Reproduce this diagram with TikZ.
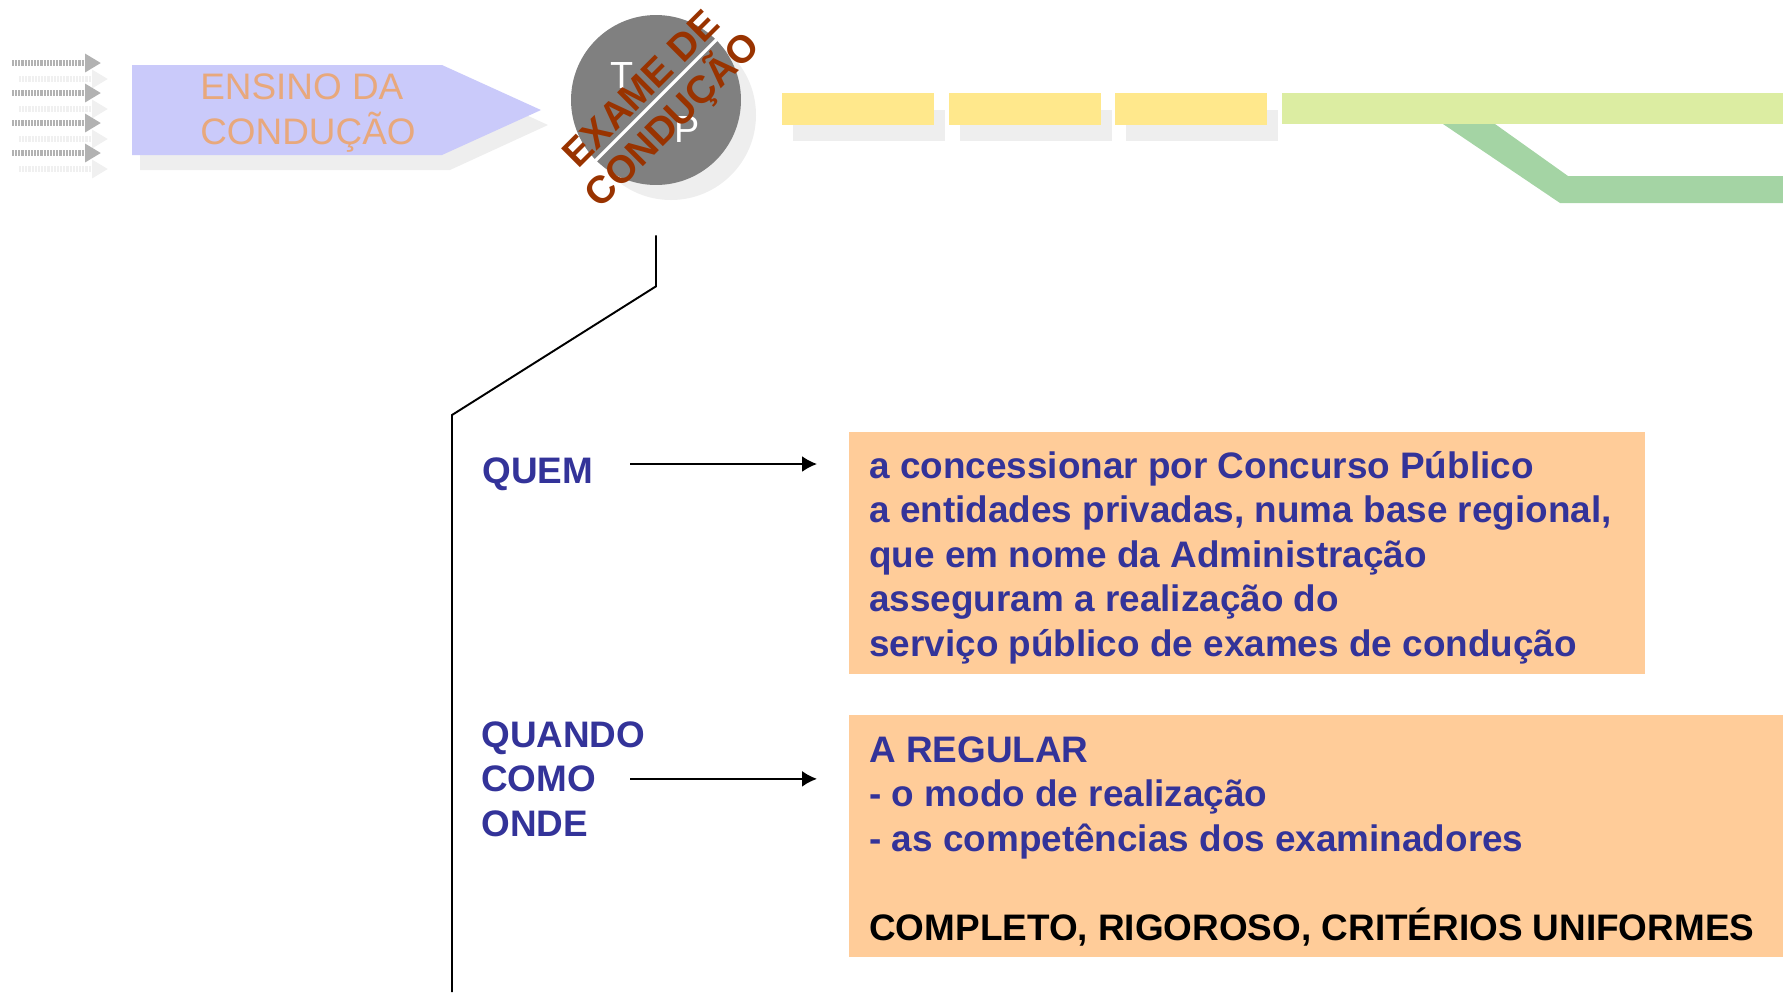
\documentclass[tikz,border=0pt]{standalone}
\usepackage{fontspec}
\setmainfont{Liberation Sans}
\usetikzlibrary{calc, arrows.meta, positioning}

\definecolor{textblue}{RGB}{51,51,153}
\definecolor{boxpeach}{RGB}{255,204,153}
\definecolor{examred}{RGB}{153,51,0}
\definecolor{examgray}{RGB}{128,128,128}
\definecolor{shadowgray}{RGB}{238,238,238}
\definecolor{ensinoblue}{RGB}{202,202,250}
\definecolor{ensinoorange}{RGB}{232,168,124}
\definecolor{stepyellow}{RGB}{255,232,140}
\definecolor{steplime}{RGB}{220,237,162}
\definecolor{stepgreen}{RGB}{164,212,164}

\begin{document}
\begin{tikzpicture}
    [
        x=0.02cm, y=-0.02cm, >={Latex[length=8.5pt,width=9pt]},
        txt/.style={font=\bfseries\fontsize{21}{25.3}\selectfont, text=textblue, align=left, inner sep=0pt},
        box/.style={fill=boxpeach, anchor=north west, inner sep=0pt},
        shadow/.style={fill=shadowgray, draw=none},
        tiny_arrow/.style={gray!60, line width=3.4pt, dash pattern=on 1.2pt off 0.6pt, -{Triangle[length=9pt,width=10pt]}},
        examtxt/.style={font=\bfseries\fontsize{22}{26}\selectfont, text=examred, inner sep=0pt, rotate=45},
        letter/.style={font=\fontsize{21.5}{26}\selectfont, text=white, inner sep=0pt}
    ]
    \tikzstyle{line} = [draw, ->, line width=1pt]
    \tikzstyle{rule} = [draw, line width=1.1pt]

    \useasboundingbox (0,0) rectangle (1783,992);

    % faded steps at the top
    \foreach \y in {63, 93, 123, 153} {
        \draw[tiny_arrow, gray!12] (19,\y+16) -- (108,\y+16);
        \draw[tiny_arrow] (12,\y) -- (101,\y);
    }

    \fill[shadow] (140,80) -- (450,80) -- (548,125) -- (450,170) -- (140,170) -- cycle;
    \fill[ensinoblue] (132,65) -- (442,65) -- (541,110) -- (442,155) -- (132,155) -- cycle;
    % base of a multi-line node = its last line
    \node[txt, font=\fontsize{21}{25.3}\selectfont, text=ensinoorange, anchor=base west] (ensino) at (200,144) {ENSINO DA\\CONDUÇÃO};

    \foreach \x in {782, 949, 1115} {
        \fill[shadow] (\x+11,110) rectangle (\x+163,141);
        \fill[stepyellow] (\x,93) rectangle (\x+152,125);
    }
    \fill[steplime] (1282,93) rectangle (1783,124);
    \fill[stepgreen] (1443,124) -- (1495,124) -- (1568,176) -- (1783,176) -- (1783,203) -- (1560,203) -- cycle;

    % exame
    \fill[shadow] (671,115) circle (85);
    \node[circle, fill=examgray, minimum size=3.4cm, inner sep=0pt] (exame) at (656,100) {};
    \node[letter, anchor=base] (t_letter) at (622,88) {T};
    \node[letter, anchor=base] (p_letter) at (687,142) {P};
    \draw[white, line width=1.8pt] (exame.225) -- (exame.45);
    \node[examtxt, anchor=base] (exame_de) at (650,98) {EXAME DE};
    \node[examtxt, anchor=base] (conducao) at (681,129) {CONDUÇÃO};

    \coordinate[below=1cm of exame] (drop_top);
    \coordinate (drop_knee) at (452,415);
    \coordinate (drop_end) at (452,992);
    \draw[rule] (drop_top) -- ++(0,51) -- (drop_knee) -- (drop_end);

    % quem
    \node[box, minimum width=15.92cm, minimum height=4.84cm] (quem_box) at (849,432) {};
    \node[txt, anchor=base west] (quem) at (482,483) {QUEM};
    \node[txt, anchor=base west] (quem_text) at (869,656)
        {a concessionar por Concurso Público\\
         a entidades privadas, numa base regional,\\
         que em nome da Administração\\
         asseguram a realização do\\
         serviço público de exames de condução};

    % quando / como / onde
    \node[box, minimum width=18.68cm, minimum height=4.84cm] (quando_box) at (849,715) {};
    \node[txt, anchor=base west] (quando) at (481,836) {QUANDO\\COMO\\ONDE};
    \node[txt, anchor=base west] (quando_text) at (869,940)
        {A REGULAR\\
         - o modo de realização\\
         - as competências dos examinadores\\[25.3pt]
         \textcolor{black}{COMPLETO, RIGOROSO, CRITÉRIOS UNIFORMES}};

    \coordinate (arrow_from) at (630,464);
    \draw[line, shorten >=0.64cm] (arrow_from) -- (arrow_from -| quem_box.west);
    \draw[line, shorten >=0.64cm] (arrow_from |- quando.east) -- (quando.east -| quando_box.west);

\end{tikzpicture}
\end{document}
